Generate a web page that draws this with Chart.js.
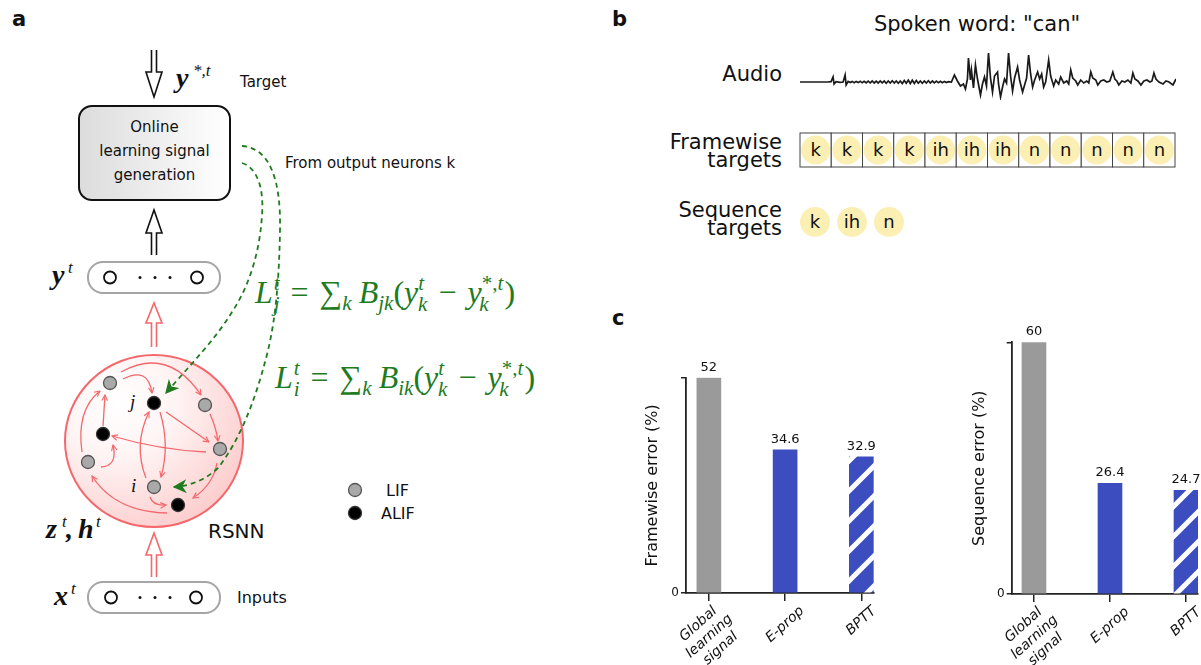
<!DOCTYPE html>
<html>
<head>
<meta charset="utf-8">
<script src="https://cdn.jsdelivr.net/npm/chart.js@4.4.1/dist/chart.umd.min.js"></script>
<style>
html, body { margin: 0; padding: 0; background: #fff; }
body { width: 1201px; height: 665px; position: relative; overflow: hidden; font-family: "DejaVu Sans", Verdana, sans-serif; }
.box { position: absolute; }
svg { position: absolute; left: 0; top: 0; }
.sans { font-family: "DejaVu Sans", Verdana, sans-serif; fill: #111; }
.math { font-family: "Liberation Serif", "DejaVu Serif", serif; font-style: italic; fill: #111; }
.eq { font-family: "Liberation Serif", "DejaVu Serif", serif; font-style: italic; fill: #1e7b1e; font-size: 32px; }
</style>
</head>
<body>

<svg id="fig" width="1201" height="665" viewBox="0 0 1201 665">
  <defs>
    <linearGradient id="boxGrad" x1="0" x2="1" y1="0" y2="0">
      <stop offset="0" stop-color="#dcdcdc"/>
      <stop offset="1" stop-color="#ffffff"/>
    </linearGradient>
    <radialGradient id="rsnnGrad" cx="0.3" cy="0.28" r="0.9">
      <stop offset="0" stop-color="#ffffff"/>
      <stop offset="0.35" stop-color="#fff4f4"/>
      <stop offset="1" stop-color="#fcc4c4"/>
    </radialGradient>
    <marker id="redHead" viewBox="0 0 10 10" refX="9" refY="5" markerWidth="7" markerHeight="7" markerUnits="userSpaceOnUse" orient="auto">
      <path d="M1,1 L9,5 L1,9" fill="none" stroke="#f4676b" stroke-width="1.6"/>
    </marker>
    <marker id="greenHead" viewBox="0 0 10 10" refX="9" refY="5" markerWidth="14" markerHeight="14" markerUnits="userSpaceOnUse" orient="auto">
      <path d="M0,0 L10,5 L0,10 L3,5 z" fill="#1e7b1e"/>
    </marker>
  </defs>

  <!-- panel letters -->
  <text x="12" y="26" class="sans" font-size="21" font-weight="bold">a</text>
  <text x="612" y="26" class="sans" font-size="21" font-weight="bold">b</text>
  <text x="612" y="325" class="sans" font-size="21" font-weight="bold">c</text>

  <!-- ===== panel a ===== -->
  <path d="M151.5,50 L151.5,72 L146,72 L154,97 L162,72 L156.5,72 L156.5,50" fill="#fff" stroke="#111" stroke-width="1.6"/>
  <text x="176" y="87" class="math" font-size="28" font-weight="bold">y</text>
  <text x="193" y="76" class="math" font-size="17">*,t</text>
  <text x="240" y="87" class="sans" font-size="15">Target</text>

  <rect x="79" y="106" width="151" height="94" rx="13" fill="url(#boxGrad)" stroke="#111" stroke-width="2"/>
  <text x="154.5" y="132" class="sans" font-size="15" text-anchor="middle">Online</text>
  <text x="154.5" y="156" class="sans" font-size="15" text-anchor="middle">learning signal</text>
  <text x="154.5" y="180" class="sans" font-size="15" text-anchor="middle">generation</text>

  <path d="M151.5,255 L151.5,233 L146,233 L154,210 L162,233 L156.5,233 L156.5,255" fill="#fff" stroke="#111" stroke-width="1.6"/>

  <text x="52" y="284" class="math" font-size="28" font-weight="bold">y</text>
  <text x="68" y="273" class="math" font-size="17">t</text>
  <rect x="88" y="262" width="132" height="31" rx="15" fill="#fff" stroke="#a5a5a5" stroke-width="2"/>
  <circle cx="110" cy="277.5" r="6" fill="none" stroke="#111" stroke-width="1.8"/>
  <circle cx="197" cy="277.5" r="6" fill="none" stroke="#111" stroke-width="1.8"/>
  <circle cx="140" cy="277.5" r="1.5" fill="#111"/>
  <circle cx="155" cy="277.5" r="1.5" fill="#111"/>
  <circle cx="170" cy="277.5" r="1.5" fill="#111"/>

  <path d="M151.5,347 L151.5,323 L146,323 L154,303 L162,323 L156.5,323 L156.5,347" fill="#fff" stroke="#f4676b" stroke-width="1.6"/>

  <ellipse cx="154" cy="441" rx="89" ry="86" fill="url(#rsnnGrad)" stroke="#f4676b" stroke-width="2"/>

  <g fill="none" stroke="#f4676b" stroke-width="1.3" marker-end="url(#redHead)">
    <path d="M123,379 Q148,366 152,393"/>
    <path d="M121,372 Q168,346 201,395"/>
    <path d="M166,412 L209,442"/>
    <path d="M210,414 Q216,427 218,441"/>
    <path d="M206,452 Q160,450 112,436"/>
    <path d="M146,478 Q133,445 149,412"/>
    <path d="M160,412 Q170,445 161,477"/>
    <path d="M103,426 L105,395"/>
    <path d="M82,452 Q76,410 100,391"/>
    <path d="M101,467 Q118,466 113,445"/>
    <path d="M167,513 Q115,512 92,476"/>
    <path d="M150,497 Q153,506 166,505"/>
    <path d="M217,463 Q213,485 193,498"/>
  </g>

  <g stroke-width="1.3">
    <circle cx="110" cy="383" r="6.5" fill="#a9a9a9" stroke="#555"/>
    <circle cx="154" cy="403" r="6.5" fill="#000" stroke="#333"/>
    <circle cx="205" cy="405" r="6.5" fill="#a9a9a9" stroke="#555"/>
    <circle cx="103" cy="434" r="6.5" fill="#000" stroke="#333"/>
    <circle cx="220" cy="449" r="6.5" fill="#a9a9a9" stroke="#555"/>
    <circle cx="88" cy="462" r="6.5" fill="#a9a9a9" stroke="#555"/>
    <circle cx="154" cy="487" r="6.5" fill="#a9a9a9" stroke="#555"/>
    <circle cx="178" cy="505" r="6.5" fill="#000" stroke="#333"/>
  </g>
  <text x="130" y="408" class="math" font-size="19">j</text>
  <text x="131" y="492" class="math" font-size="19">i</text>

  <g fill="none" stroke="#1e7b1e" stroke-width="1.8" stroke-dasharray="5,4" marker-end="url(#greenHead)">
    <path d="M242,146 C270,148 281,180 280,230 C279,290 274,330 265,362 C255,400 240,440 218,468 C205,480 190,486 174,487"/>
    <path d="M242,163 C258,168 264,190 262,215 C260,250 250,285 232,312 C215,340 190,365 166,393"/>
  </g>
  <text x="285" y="168" class="sans" font-size="15">From output neurons k</text>

  <text x="255" y="303" class="eq"><tspan>L</tspan><tspan font-size="21" dx="1" dy="-13">t</tspan><tspan font-size="21" dx="-6" dy="21">j</tspan><tspan font-style="normal" dx="11" dy="-8">=</tspan><tspan font-style="normal" dx="11">∑</tspan><tspan font-size="21" dy="7">k</tspan><tspan dx="7" dy="-7">B</tspan><tspan font-size="21" dy="7">jk</tspan><tspan font-style="normal" dy="-7">(</tspan><tspan>y</tspan><tspan font-size="21" dy="-13">t</tspan><tspan font-size="21" dx="-6" dy="21">k</tspan><tspan font-style="normal" dx="11" dy="-8">−</tspan><tspan dx="11">y</tspan><tspan font-size="21" font-style="normal" dy="-13">*,</tspan><tspan font-size="21">t</tspan><tspan font-size="21" dx="-24" dy="21">k</tspan><tspan font-style="normal" dx="16" dy="-8">)</tspan></text>

  <text x="275" y="388" class="eq"><tspan>L</tspan><tspan font-size="21" dx="1" dy="-13">t</tspan><tspan font-size="21" dx="-6" dy="21">i</tspan><tspan font-style="normal" dx="11" dy="-8">=</tspan><tspan font-style="normal" dx="11">∑</tspan><tspan font-size="21" dy="7">k</tspan><tspan dx="7" dy="-7">B</tspan><tspan font-size="21" dy="7">ik</tspan><tspan font-style="normal" dy="-7">(</tspan><tspan>y</tspan><tspan font-size="21" dy="-13">t</tspan><tspan font-size="21" dx="-6" dy="21">k</tspan><tspan font-style="normal" dx="11" dy="-8">−</tspan><tspan dx="11">y</tspan><tspan font-size="21" font-style="normal" dy="-13">*,</tspan><tspan font-size="21">t</tspan><tspan font-size="21" dx="-24" dy="21">k</tspan><tspan font-style="normal" dx="16" dy="-8">)</tspan></text>

  <circle cx="355" cy="490" r="6.5" fill="#a9a9a9" stroke="#555" stroke-width="1.3"/>
  <text x="386" y="496" class="sans" font-size="16">LIF</text>
  <circle cx="355" cy="513" r="6.5" fill="#000" stroke="#333" stroke-width="1.3"/>
  <text x="381" y="519" class="sans" font-size="16">ALIF</text>

  <text x="46" y="538" class="math" font-size="28" font-weight="bold">z</text>
  <text x="62" y="527" class="math" font-size="17">t</text>
  <text x="66" y="538" class="math" font-size="28" font-weight="bold">,</text>
  <text x="78" y="538" class="math" font-size="28" font-weight="bold">h</text>
  <text x="96" y="527" class="math" font-size="17">t</text>
  <text x="208" y="538" class="sans" font-size="20">RSNN</text>

  <path d="M151.5,577 L151.5,555 L146,555 L154,533 L162,555 L156.5,555 L156.5,577" fill="#fff" stroke="#f4676b" stroke-width="1.6"/>

  <text x="54" y="605" class="math" font-size="28" font-weight="bold">x</text>
  <text x="71" y="594" class="math" font-size="17">t</text>
  <rect x="88" y="582" width="132" height="31" rx="15" fill="#fff" stroke="#a5a5a5" stroke-width="2"/>
  <circle cx="111" cy="597.5" r="6" fill="none" stroke="#111" stroke-width="1.8"/>
  <circle cx="196" cy="597.5" r="6" fill="none" stroke="#111" stroke-width="1.8"/>
  <circle cx="140" cy="597.5" r="1.5" fill="#111"/>
  <circle cx="155" cy="597.5" r="1.5" fill="#111"/>
  <circle cx="170" cy="597.5" r="1.5" fill="#111"/>
  <text x="237" y="603" class="sans" font-size="16">Inputs</text>

  <!-- ===== panel b ===== -->
  <text x="977" y="31" class="sans" font-size="21" text-anchor="middle">Spoken word: "can"</text>
  <text x="782" y="81" class="sans" font-size="21" text-anchor="end">Audio</text>
  <text x="782" y="148.5" class="sans" font-size="21" text-anchor="end">Framewise</text>
  <text x="782" y="167" class="sans" font-size="21" text-anchor="end">targets</text>
  <text x="782" y="217" class="sans" font-size="21" text-anchor="end">Sequence</text>
  <text x="782" y="235" class="sans" font-size="21" text-anchor="end">targets</text>
  <g id="targetCells"></g>
</svg>

<div class="box" style="left:800px;top:50px;width:376px;height:50px;"><canvas id="audioChart"></canvas></div>
<div class="box" style="left:620px;top:300px;width:280px;height:365px;"><canvas id="frameChart"></canvas></div>
<div class="box" style="left:930px;top:300px;width:271px;height:365px;"><canvas id="seqChart"></canvas></div>

<script>
// ==========================================
// DATA
// ==========================================
const categories = [['Global', 'learning', 'signal'], ['E-prop'], ['BPTT']];
const framewiseError = [52, 34.6, 32.9];
const sequenceError = [60, 26.4, 24.7];

const framewiseTargets = ['k', 'k', 'k', 'k', 'ih', 'ih', 'ih', 'n', 'n', 'n', 'n', 'n'];
const sequenceTargets = ['k', 'ih', 'n'];

// audio trace (time in px-like units, amplitude arbitrary)
const audioTime = [0, 28, 31, 33, 34, 36, 40, 43, 45, 46, 48, 50, 52, 54, 56, 58, 60, 62, 64, 66, 68, 70, 72, 74, 76, 78, 80, 82, 84, 86, 88, 90, 92, 94, 96, 98, 100, 102, 104, 106, 108, 110, 112, 114, 116, 118, 120, 122, 124, 126, 128, 130, 132, 134, 136, 138, 140, 142, 144, 146, 148, 151, 154, 157, 160, 163, 165, 167, 168, 170, 171, 173, 175, 177, 180, 182, 184, 186, 188, 190, 192, 194, 197, 198, 200, 202, 204, 206, 208, 210, 212, 214, 217, 219, 222, 224, 226, 228, 230, 232, 234, 237, 239, 241, 243, 245, 248, 250, 253, 255, 258, 260, 263, 266, 268, 270, 272, 275, 277, 280, 283, 286, 288, 290, 292, 295, 297, 300, 303, 306, 309, 312, 314, 316, 318, 321, 324, 327, 330, 332, 334, 337, 340, 343, 346, 349, 351, 353, 355, 358, 362, 365, 368, 372, 375];
const audioAmp = [0, 0, 0.3, 5, -2, 0.3, -0.3, 0, 7, -3, 0.6, -0.6, 0.6, -0.8, 0.6, -0.6, 0.8, -0.8, 0.6, -1, 0.8, -0.8, 1, -1, 0.8, -1, 1, -0.8, 1, -1.2, 1, -1, 1.2, -1, 1, -1.2, 1, -1.5, 1.5, -1.2, 1.8, -1.5, 1.8, -1.5, 1.5, -1.2, 1, -1.2, 1, -1, 1.2, -1, 1, -0.8, 0.8, -0.8, 0.6, -0.8, 0.6, -0.6, 0.3, 0, 7, 1, -4, -2, -7, 3, 24, 2, 12, -6, 17, 3, -13, -2, 5, -4, 29, 4, -10, 6, 10, -2, -15, -5, 3, -1, 29, 6, -9, 4, 15, 2, -10, -3, 4, 27, 8, -5, 2, 10, 3, 8, -5, 0, 22, 6, -4, 2, -2, 5, -1, 1, -2, 12, 4, 1, -3, 2, -1, 1, -1, 10, 4, 2, -3, 1, 2, 0, 1, 10, 3, 1, -3, 1, 0, 2, -1, 9, 3, 1, -3, 1, 2, 0, 1, 9, 3, 0, -2, 1, 0, -3, 3];

const GRAY = '#9a9a9a';
const BLUE = '#3c4ebf';
const FONT = '"DejaVu Sans", Verdana, sans-serif';

// ==========================================
// PANEL B: TARGET CELLS
// ==========================================
function drawTargets() {
    const g = document.getElementById('targetCells');
    const left = 800, top = 133, cellW = 375 / framewiseTargets.length, cellH = 34;
    let html = '';
    framewiseTargets.forEach((p, i) => {
        const cx = left + (i + 0.5) * cellW;
        html += `<rect x="${left + i * cellW}" y="${top}" width="${cellW}" height="${cellH}" fill="#fff" stroke="#444" stroke-width="1"/>`;
        html += `<circle cx="${cx}" cy="${top + cellH / 2}" r="14.5" fill="#fcefb4"/>`;
        html += `<text x="${cx}" y="${top + cellH / 2 + 6}" class="sans" font-size="18" text-anchor="middle">${p}</text>`;
    });
    sequenceTargets.forEach((p, i) => {
        const cx = 815 + i * 37;
        html += `<circle cx="${cx}" cy="222" r="15" fill="#fcefb4"/>`;
        html += `<text x="${cx}" y="228" class="sans" font-size="18" text-anchor="middle">${p}</text>`;
    });
    g.innerHTML = html;
}

// ==========================================
// PANEL B: AUDIO TRACE
// ==========================================
function initAudio() {
    new Chart(document.getElementById('audioChart'), {
        type: 'line',
        data: {
            datasets: [{
                data: audioTime.map((t, i) => ({ x: t, y: audioAmp[i] })),
                borderColor: '#1a1a1a',
                borderWidth: 1.7,
                pointRadius: 0,
                tension: 0,
                clip: false
            }]
        },
        options: {
            animation: false,
            responsive: true,
            maintainAspectRatio: false,
            layout: { padding: 0 },
            plugins: { legend: { display: false }, tooltip: { enabled: false } },
            scales: {
                x: { type: 'linear', min: 0, max: 375, display: false },
                y: { min: -18, max: 32, display: false }
            }
        }
    });
}

// ==========================================
// PANEL C: BAR CHARTS
// ==========================================
function makeHatch() {
    const c = document.createElement('canvas');
    c.width = 30; c.height = 30;
    const g = c.getContext('2d');
    g.fillStyle = BLUE;
    g.fillRect(0, 0, 30, 30);
    g.strokeStyle = '#fff';
    g.lineWidth = 5;
    g.beginPath();
    g.moveTo(-5, 35); g.lineTo(35, -5);
    g.moveTo(-35, 35); g.lineTo(5, -5);
    g.moveTo(25, 35); g.lineTo(65, -5);
    g.stroke();
    return g.createPattern(c, 'repeat');
}

const valueLabels = {
    id: 'valueLabels',
    afterDatasetsDraw(chart) {
        const { ctx } = chart;
        const values = chart.data.datasets[0].data;
        ctx.save();
        ctx.font = '13px ' + FONT;
        ctx.fillStyle = '#111';
        ctx.textAlign = 'center';
        ctx.textBaseline = 'bottom';
        chart.getDatasetMeta(0).data.forEach((bar, i) => {
            ctx.fillText(String(values[i].y), bar.x, bar.y - 4);
        });
        ctx.restore();
    }
};

// rotated, centred category labels (matplotlib style)
const rotatedLabels = {
    id: 'rotatedLabels',
    afterDraw(chart) {
        const { ctx } = chart;
        const xs = chart.scales.x;
        const ang = 42 * Math.PI / 180, lh = 16.5, h = 14;
        const cos = Math.cos(ang), sin = Math.sin(ang);
        ctx.save();
        ctx.font = 'italic 14px ' + FONT;
        ctx.fillStyle = '#111';
        ctx.textAlign = 'center';
        ctx.textBaseline = 'middle';
        categories.forEach((lines, i) => {
            const px = xs.getPixelForValue(i);
            const n = lines.length;
            let minX = Infinity, maxX = -Infinity, minY = Infinity;
            lines.forEach((t, k) => {
                const w = ctx.measureText(t).width, cy = (k - (n - 1) / 2) * lh;
                [[-w / 2, cy - h / 2], [w / 2, cy - h / 2], [-w / 2, cy + h / 2], [w / 2, cy + h / 2]].forEach(([x, y]) => {
                    const rx = x * cos + y * sin, ry = -x * sin + y * cos;
                    minX = Math.min(minX, rx); maxX = Math.max(maxX, rx); minY = Math.min(minY, ry);
                });
            });
            ctx.save();
            ctx.translate(px - (minX + maxX) / 2, xs.top + 11 - minY);
            ctx.rotate(-ang);
            lines.forEach((t, k) => ctx.fillText(t, 0, (k - (n - 1) / 2) * lh));
            ctx.restore();
        });
        ctx.restore();
    }
};

function makeBarChart(id, values, yTitle, geo) {
    const yMax = values[0];
    return new Chart(document.getElementById(id), {
        type: 'bar',
        data: {
            datasets: [{
                data: values.map((v, i) => ({ x: i, y: v })),
                backgroundColor: [GRAY, BLUE, makeHatch()],
                barThickness: 24
            }]
        },
        options: {
            animation: false,
            responsive: true,
            maintainAspectRatio: false,
            layout: { padding: { top: geo.padTop, right: geo.padRight, left: 0, bottom: 0 } },
            plugins: { legend: { display: false }, tooltip: { enabled: false } },
            scales: {
                x: {
                    type: 'linear',
                    min: geo.xMin,
                    max: geo.xMax,
                    offset: false,
                    afterBuildTicks: s => { s.ticks = categories.map((c, i) => ({ value: i })); },
                    afterFit: s => { s.height = geo.xHeight; },
                    ticks: { display: false },
                    grid: { offset: false, drawOnChartArea: false, drawTicks: true, tickLength: 8, color: '#222', lineWidth: 1.5 },
                    border: { color: '#222', width: 1.8 }
                },
                y: {
                    min: 0,
                    max: yMax,
                    afterBuildTicks: s => { s.ticks = [{ value: 0 }, { value: yMax }]; },
                    afterFit: s => { s.width = geo.yWidth; },
                    ticks: {
                        callback: v => (v === 0 ? '0' : ''),
                        font: { size: 12, family: FONT },
                        color: '#111',
                        padding: 2
                    },
                    grid: { drawOnChartArea: false, drawTicks: true, tickLength: 5, color: '#222', lineWidth: 1.5 },
                    border: { color: '#222', width: 1.8 },
                    title: {
                        display: true,
                        text: yTitle,
                        color: '#111',
                        font: { size: 16, family: FONT },
                        padding: { top: geo.titlePad, bottom: 0 }
                    }
                }
            }
        },
        plugins: [valueLabels, rotatedLabels]
    });
}

document.addEventListener('DOMContentLoaded', () => {
    drawTargets();
    initAudio();
    makeBarChart('frameChart', framewiseError, 'Framewise error (%)', {
        padTop: 77.7, padRight: 26, yWidth: 66, xHeight: 72, titlePad: 23.4, xMin: -0.3, xMax: 2.166
    });
    makeBarChart('seqChart', sequenceError, 'Sequence error (%)', {
        padTop: 42.3, padRight: 3, yWidth: 81.7, xHeight: 71, titlePad: 40.4, xMin: -0.293, xMax: 2.158
    });
});
</script>
</body>
</html>
